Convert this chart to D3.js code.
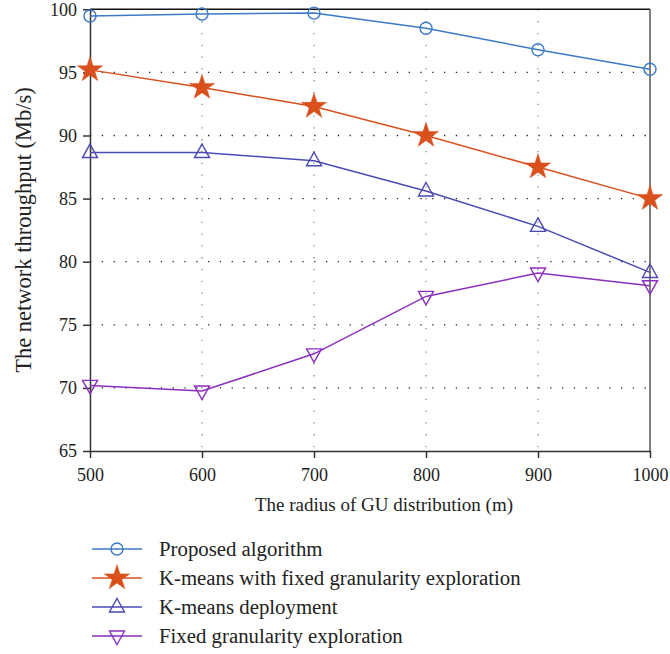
<!DOCTYPE html>
<html>
<head>
<meta charset="utf-8">
<script src="https://cdn.jsdelivr.net/npm/d3@7"></script>
<style>
  body { margin: 0; background: #fff; }
  text { font-family: "Liberation Serif", "DejaVu Serif", serif; fill: #222; }
</style>
</head>
<body>
<script>
// data
var radius = [500, 600, 700, 800, 900, 1000];
var proposed = [99.47, 99.63, 99.7, 98.5, 96.8, 95.25];
var kmeansFixed = [95.2, 93.8, 92.3, 90.0, 87.5, 85.0];
var kmeansDeploy = [88.65, 88.65, 88.0, 85.6, 82.8, 79.15];
var fixedGran = [70.2, 69.75, 72.7, 77.25, 79.1, 78.1];
var yTicks = [65, 70, 75, 80, 85, 90, 95, 100];
var seriesNames = ["Proposed algorithm", "K-means with fixed granularity exploration", "K-means deployment", "Fixed granularity exploration"];

var series = [
  { name: seriesNames[0], values: proposed, color: "#3b7ac6", marker: "circle" },
  { name: seriesNames[1], values: kmeansFixed, color: "#d9501c", marker: "star" },
  { name: seriesNames[2], values: kmeansDeploy, color: "#4a4ab4", marker: "up" },
  { name: seriesNames[3], values: fixedGran, color: "#8a2fbd", marker: "down" }
];

var width = 670, height = 654;
var mLeft = 90, mRight = 650, mTop = 9.3, mBottom = 451;

var svg = d3.select("body").append("svg").attr("width", width).attr("height", height);

var x = d3.scaleLinear().domain([500, 1000]).range([mLeft, mRight]);
var y = d3.scaleLinear().domain([65, 100]).range([mBottom, mTop]);

// grid
var grid = svg.append("g");
grid.selectAll(".vg").data(radius.slice(1, -1)).enter().append("line")
  .attr("x1", d => x(d)).attr("x2", d => x(d))
  .attr("y1", mTop).attr("y2", mBottom)
  .attr("stroke", "#888").attr("stroke-width", 1.3)
  .attr("stroke-dasharray", "1.3,10.5");
grid.selectAll(".hg").data(yTicks.slice(1, -1)).enter().append("line")
  .attr("x1", mLeft).attr("x2", mRight)
  .attr("y1", d => y(d)).attr("y2", d => y(d))
  .attr("stroke", "#222").attr("stroke-width", 1.3)
  .attr("stroke-dasharray", "1.3,10.5");

// box
svg.append("line").attr("x1", mLeft).attr("x2", mRight).attr("y1", mTop).attr("y2", mTop)
  .attr("stroke", "#111").attr("stroke-width", 1.5);
svg.append("line").attr("x1", mRight).attr("x2", mRight).attr("y1", mTop).attr("y2", mBottom)
  .attr("stroke", "#555").attr("stroke-width", 1.5);

// axes
var xAxis = svg.append("g").attr("transform", "translate(0," + mBottom + ")")
  .call(d3.axisBottom(x).tickValues(radius).tickFormat(d3.format("d")).tickSize(7).tickPadding(10).tickSizeOuter(0));
var yAxis = svg.append("g").attr("transform", "translate(" + mLeft + ",0)")
  .call(d3.axisLeft(y).tickValues(yTicks).tickSize(7).tickPadding(6).tickSizeOuter(0));
[xAxis, yAxis].forEach(function (a) {
  a.select(".domain").attr("stroke", "#333").attr("stroke-width", 1.5);
  a.selectAll(".tick line").attr("stroke", "#333").attr("stroke-width", 1.5);
  a.selectAll("text").attr("font-size", 18).attr("fill", "#222")
    .style("font-family", "'Liberation Serif', serif");
});

// axis titles
svg.append("text").attr("x", (mLeft + mRight) / 2 + 14).attr("y", 511)
  .attr("text-anchor", "middle").attr("font-size", 19)
  .text("The radius of GU distribution (m)");
svg.append("text").attr("transform", "translate(31," + 230 + ") rotate(-90)")
  .attr("text-anchor", "middle").attr("font-size", 22.5)
  .text("The network throughput (Mb/s)");

var star = d3.symbol().type(d3.symbolStar).size(200);
function drawMarker(g, type, color) {
  if (type === "circle") {
    g.append("circle").attr("r", 6).attr("fill", "none").attr("stroke", color).attr("stroke-width", 1.4);
  } else if (type === "star") {
    g.append("path").attr("d", star()).attr("fill", color).attr("stroke", color).attr("stroke-width", 0.5);
  } else if (type === "up") {
    g.append("path").attr("d", "M0,-8.5L7.5,5L-7.5,5Z").attr("fill", "none").attr("stroke", color).attr("stroke-width", 1.4);
  } else {
    g.append("path").attr("d", "M0,8.5L7.5,-5L-7.5,-5Z").attr("fill", "none").attr("stroke", color).attr("stroke-width", 1.4);
  }
}

var line = d3.line().x((d, i) => x(radius[i])).y(d => y(d));
series.forEach(function (s) {
  svg.append("path").datum(s.values).attr("d", line)
    .attr("fill", "none").attr("stroke", s.color).attr("stroke-width", 1.5);
  s.values.forEach(function (v, i) {
    var g = svg.append("g").attr("transform", "translate(" + x(radius[i]) + "," + y(v) + ")");
    drawMarker(g, s.marker, s.color);
  });
});

// legend
var legend = svg.append("g");
series.forEach(function (s, i) {
  var ly = 549 + i * 29;
  legend.append("line").attr("x1", 92).attr("x2", 142).attr("y1", ly).attr("y2", ly)
    .attr("stroke", s.color).attr("stroke-width", 1.5);
  var g = legend.append("g").attr("transform", "translate(117," + ly + ")");
  drawMarker(g, s.marker, s.color);
  legend.append("text").attr("x", 159).attr("y", ly).attr("dy", "0.35em")
    .attr("font-size", 20.8).text(s.name);
});
</script>
</body>
</html>
